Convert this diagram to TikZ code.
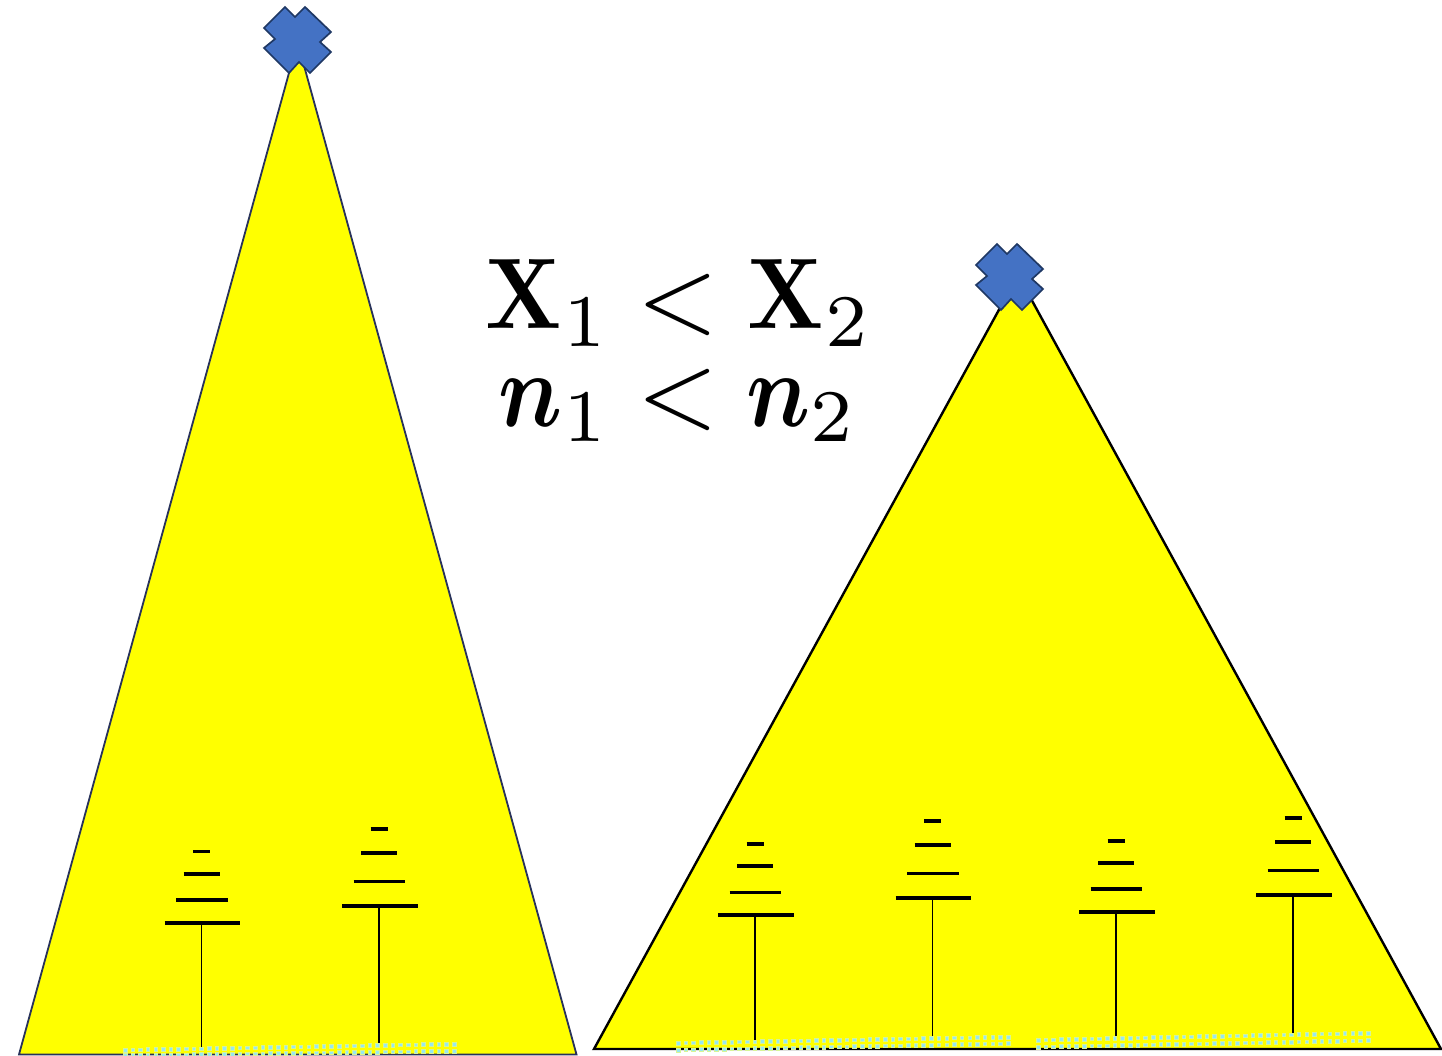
\documentclass[tikz,border=0pt]{standalone}
\usepackage{amsmath}
\definecolor{crossfill}{RGB}{68,114,196}
\definecolor{crossedge}{RGB}{31,56,100}
\definecolor{speckfill}{RGB}{150,232,240}
\definecolor{speckedge}{RGB}{215,245,150}
\definecolor{pureyellow}{RGB}{255,255,0}
\definecolor{edgeA}{RGB}{40,50,90}
\tikzset{
  x=1pt,y=-1pt,
  treeA/.style={fill=pureyellow,draw=edgeA,line width=1.8pt,line join=miter},
  treeB/.style={fill=pureyellow,draw=black,line width=2.4pt,line join=miter},
  crossmark/.style={fill=crossfill,draw=crossedge,line width=1.7pt,line join=miter},
  bar/.style={draw=black,line width=3.2pt},
  stem/.style={draw=black,line width=1.5pt},
  speck/.style={fill=speckfill,draw=speckedge,line width=0.6pt},
  glyph/.style 2 args={inner sep=0pt,anchor=base,text=black,xscale=#1,yscale=#2},
  capX/.style={glyph={8.8}{10.05}},
  letterN/.style={glyph={9}{10.6}},
  digit/.style={glyph={10.6}{10.6}},
  lessthan/.style={glyph={10.4}{10.6}}
}
\newcommand{\crossat}[2]{%
  \draw[crossmark,shift={(#1,#2)}] (-13,-25)--(-3,-15)--(7,-25)--(33,0)--(22,10)--(33,20)--(12,41)--(1,30)--(-9,41)--(-34,16)--(-23,7)--(-34,-4)--cycle;}
\newcommand{\treebars}[6]{%
  \draw[stem] (#1,#5)--(#1,#6);
  \draw[bar] (#1-8.5,#2)--(#1+8.5,#2);
  \draw[bar] (#1-18,#3)--(#1+18,#3);
  \draw[bar] (#1-25.5,#4)--(#1+26,#4);
  \draw[bar] (#1-37,#5)--(#1+38.5,#5);}
\newcommand{\speckrow}[4]{%
  \foreach \i in {0,...,43}{%
    \pgfmathsetmacro{\px}{#1+\i*(#2-#1)/43}
    \pgfmathsetmacro{\py}{#3+\i*(#4-#3)/43}
    \filldraw[speck] (\px-1.8,\py-1.8) rectangle (\px+1.8,\py+1.8);
  }}
\begin{document}
\begin{tikzpicture}
\useasboundingbox (0,0) rectangle (1442,1056);
\fill[white] (0,0) rectangle (1442,1056);

% left tree
\draw[treeA] (297.5,42)--(576.5,1054.5)--(19,1054.5)--cycle;
\crossat{298}{32}
\treebars{201.5}{851.5}{874}{900}{923}{1048}
\treebars{379}{829}{853}{881.5}{906}{1044}
\speckrow{125}{454}{1050}{1044}
\speckrow{125}{454}{1055.5}{1051}

% right tree
\draw[treeB] (1018,275)--(1441,1049)--(594,1049)--cycle;
\crossat{1010}{269}
\treebars{755}{844}{866}{892.5}{915}{1040}
\treebars{932.5}{821}{845}{873.5}{898}{1037}
\treebars{1116}{841}{863}{889}{912}{1037}
\treebars{1293}{818}{842}{870.5}{895}{1033}
\speckrow{678}{1008}{1043}{1037}
\speckrow{678}{1008}{1050}{1043.5}
\speckrow{1038}{1368}{1040}{1033}
\speckrow{1038}{1368}{1047}{1040.5}

% formulas
\node[capX] (x1) at (523.5,329) {$\mathbf{X}$};
\node[digit] (xs1) at (585,346.7) {$\scriptstyle 1$};
\node[lessthan] (lt1) at (677.5,331) {$<$};
\node[capX] (x2) at (786,329) {$\mathbf{X}$};
\node[digit] (xs2) at (847,346.7) {$\scriptstyle 2$};
\node[letterN] (n1) at (531,426.7) {$\boldsymbol{n}$};
\node[digit] (ns1) at (585,441.7) {$\scriptstyle 1$};
\node[lessthan] (lt2) at (677.5,426) {$<$};
\node[letterN] (n2) at (779,426.7) {$\boldsymbol{n}$};
\node[digit] (ns2) at (832,441.7) {$\scriptstyle 2$};
\end{tikzpicture}
\end{document}
